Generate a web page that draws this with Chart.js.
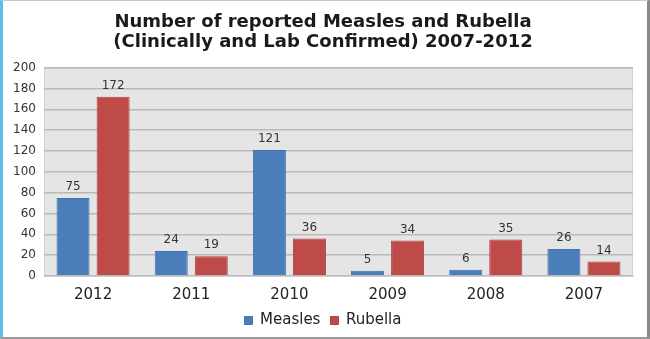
<!DOCTYPE html>
<html>
<head>
<meta charset="utf-8">
<script src="https://cdn.jsdelivr.net/npm/chart.js@4/dist/chart.umd.min.js"></script>
<style>
html,body{margin:0;padding:0;background:#fff;}
#wrap{position:absolute;left:0;top:0;width:650px;height:339px;box-sizing:border-box;border-left:3px solid #5bc0e8;border-right:3px solid #8a8a8a;border-top:1px solid #c8c8c8;border-bottom:2px solid #9a9a9a;}
#c{position:absolute;left:0;top:0;}
</style>
</head>
<body>
<div id="wrap"></div>
<canvas id="c" width="650" height="339"></canvas>
<script>
const categories = ["2012","2011","2010","2009","2008","2007"];
const measles = [75, 24, 121, 5, 6, 26];
const rubella = [172, 19, 36, 34, 35, 14];
const yTicks = [0,20,40,60,80,100,120,140,160,180,200];
const titleLines = ["Number of reported Measles and Rubella","(Clinically and Lab Confirmed) 2007-2012"];

const plotBg = {
  id:'plotBg',
  beforeDraw(chart){
    const {ctx, chartArea:a} = chart;
    ctx.save();
    ctx.fillStyle = '#e5e5e5';
    ctx.fillRect(a.left, a.top, a.right-a.left, a.bottom-a.top);
    ctx.strokeStyle = '#d2d2d2';
    ctx.lineWidth = 1;
    ctx.strokeRect(a.left+0.5, a.top+0.5, a.right-a.left-1, a.bottom-a.top-1);
    ctx.restore();
  }
};
const valueLabels = {
  id:'valueLabels',
  afterDatasetsDraw(chart){
    const ctx = chart.ctx;
    ctx.save();
    ctx.font = '12px "DejaVu Sans", sans-serif';
    ctx.fillStyle = '#333';
    ctx.textAlign = 'center';
    ctx.textBaseline = 'bottom';
    chart.data.datasets.forEach((ds, i) => {
      chart.getDatasetMeta(i).data.forEach((bar, j) => {
        ctx.fillText(String(ds.data[j]), bar.x, bar.y - 5);
      });
    });
    ctx.restore();
  }
};

new Chart(document.getElementById('c'), {
  type:'bar',
  data:{
    labels: categories,
    datasets:[
      {label:'Measles', data: measles, backgroundColor:'#4a7ebb', borderColor:'#4173b0', borderWidth:1},
      {label:'Rubella', data: rubella, backgroundColor:'#be4b48', borderColor:'#ad413e', borderWidth:1}
    ]
  },
  options:{
    responsive:false,
    animation:false,
    devicePixelRatio:1,
    categoryPercentage:0.816,
    barPercentage:0.825,
    layout:{padding:{left:13,right:17,top:0,bottom:1}},
    plugins:{
      title:{display:true, text:titleLines, color:'#1a1a1a',
        font:{family:'"DejaVu Sans", sans-serif', size:18, weight:'bold', lineHeight:1.13},
        padding:{top:12,bottom:15}},
      legend:{position:'bottom', labels:{boxWidth:8, boxHeight:8, color:'#222',
        font:{family:'"DejaVu Sans", sans-serif', size:15}, padding:10}},
      tooltip:{enabled:false}
    },
    scales:{
      x:{grid:{display:false, drawTicks:false}, border:{display:true,color:'#cfcfcf'},
        afterFit(s){ s.height = 27; },
        ticks:{color:'#222', font:{family:'"DejaVu Sans", sans-serif', size:15}, padding:10}},
      y:{min:0,max:200, afterBuildTicks(s){ s.ticks = yTicks.map(v=>({value:v})); },
        afterFit(s){ s.width = 31; },
        grid:{color:'#bababa', lineWidth:1.5, drawTicks:false}, border:{display:false},
        ticks:{color:'#333', font:{family:'"DejaVu Sans", sans-serif', size:12}, padding:8}}
    }
  },
  plugins:[plotBg, valueLabels]
});
</script>
</body>
</html>
